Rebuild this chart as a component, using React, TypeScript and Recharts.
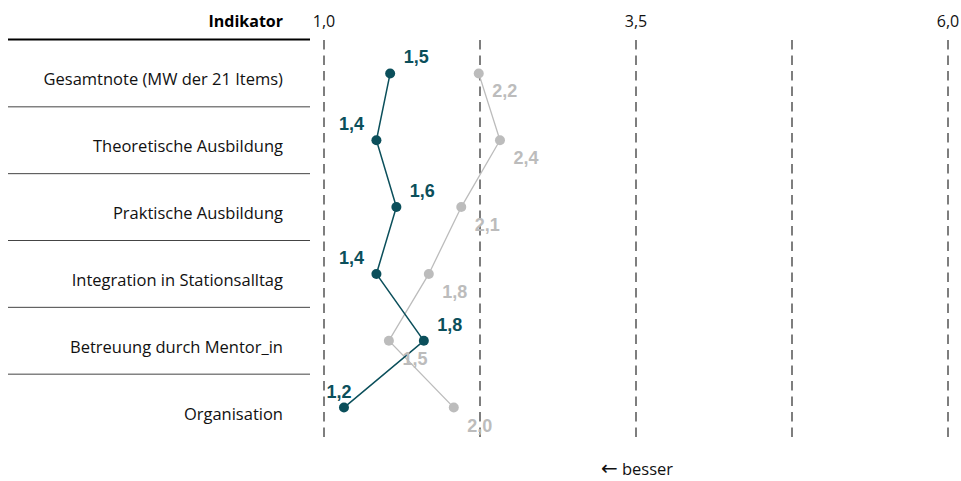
import React from 'react';
import {
  LineChart,
  Line,
  XAxis,
  YAxis,
  CartesianGrid,
  LabelList,
  Customized,
} from 'recharts';

const indicators = [
  'Gesamtnote (MW der 21 Items)',
  'Theoretische Ausbildung',
  'Praktische Ausbildung',
  'Integration in Stationsalltag',
  'Betreuung durch Mentor_in',
  'Organisation',
];
const currentScores = [1.53, 1.42, 1.58, 1.42, 1.8, 1.16];
const previousScores = [2.24, 2.41, 2.1, 1.84, 1.52, 2.04];
const gridTicks = [1, 2.25, 3.5, 4.75, 6];
const labelledTicks = [1, 3.5, 6];

const TEAL = '#0b4f5b';
const GREY = '#bcbcbc';
const FONT = '"Open Sans", sans-serif';
const LABEL_FONT = '"Liberation Sans", Arial, sans-serif';

const W = 961;
const H = 481;
const TOP_AXIS_H = 40;
const M = { top: 0, right: 13, bottom: 40, left: 0 };
const AXIS_W = 324;
const BAND = (H - TOP_AXIS_H - M.bottom) / indicators.length;

const data = indicators.map((name, i) => ({
  name,
  current: currentScores[i],
  previous: previousScores[i],
}));

const fmt = (v: number) => v.toFixed(1).replace('.', ',');

function XTick(props: any) {
  const { x, payload } = props;
  if (!labelledTicks.includes(payload.value)) return null;
  return (
    <text x={x} y={27} textAnchor="middle" fontFamily={FONT} fontSize={16} fill="#111">
      {fmt(payload.value)}
    </text>
  );
}

function YTick(props: any) {
  const { y, payload, index } = props;
  const top = y - BAND / 2;
  return (
    <g>
      <line
        x1={8}
        x2={310}
        y1={index === 0 ? top - 0.5 : top}
        y2={index === 0 ? top - 0.5 : top}
        stroke={index === 0 ? '#000' : '#444'}
        strokeWidth={index === 0 ? 2 : 1}
      />
      <text x={283} y={y + 12} textAnchor="end" fontFamily={FONT} fontSize={16.5} fill="#111">
        {payload.value}
      </text>
    </g>
  );
}

// teal labels sit above-left when the value drops, otherwise above-right
function CurrentLabel(props: any) {
  const { x, y, value, index } = props;
  const prev = index > 0 ? currentScores[index - 1] : -Infinity;
  const left = value < prev;
  const cx = left ? Math.max(x - 25, AXIS_W + 15) : x + 26;
  return (
    <text x={cx} y={y - 10} textAnchor="middle" fontFamily={LABEL_FONT} fontWeight="bold" fontSize={18} fill={TEAL}>
      {fmt(value)}
    </text>
  );
}

function PreviousLabel(props: any) {
  const { x, y, value } = props;
  return (
    <text x={x + 26} y={y + 24} textAnchor="middle" fontFamily={LABEL_FONT} fontWeight="bold" fontSize={18} fill={GREY}>
      {fmt(value)}
    </text>
  );
}

function Extras() {
  return (
    <g>
      <text x={283} y={27} textAnchor="end" fontFamily={FONT} fontWeight="bold" fontSize={16} fill="#000">
        Indikator
      </text>
      <text x={637} y={475} textAnchor="middle" fontFamily={FONT} fontSize={16.5} fill="#111">
        <tspan fontFamily='"DejaVu Sans", sans-serif' fontSize={20}>←</tspan> besser
      </text>
    </g>
  );
}

export default function App() {
  return (
    <div style={{ position: 'absolute', left: 0, top: 0, width: W, height: H, background: '#fff' }}>
      <LineChart width={W} height={H} data={data} layout="vertical" margin={M}>
        <CartesianGrid
          horizontal={false}
          vertical
          stroke="#3a3a3a"
          strokeWidth={1.3}
          strokeDasharray="9.5 6"
        />
        <XAxis
          type="number"
          orientation="top"
          domain={[1, 6]}
          ticks={gridTicks}
          interval={0}
          axisLine={false}
          tickLine={false}
          height={TOP_AXIS_H}
          tick={<XTick />}
          allowDataOverflow
        />
        <YAxis
          type="category"
          dataKey="name"
          scale="band"
          width={AXIS_W}
          axisLine={false}
          tickLine={false}
          interval={0}
          tick={<YTick />}
        />
        <Line
          dataKey="previous"
          type="linear"
          stroke={GREY}
          strokeWidth={1.3}
          dot={{ r: 5, fill: GREY, stroke: 'none' }}
          activeDot={false}
          isAnimationActive={false}
        >
          <LabelList dataKey="previous" content={<PreviousLabel />} />
        </Line>
        <Line
          dataKey="current"
          type="linear"
          stroke={TEAL}
          strokeWidth={1.5}
          dot={{ r: 5, fill: TEAL, stroke: 'none' }}
          activeDot={false}
          isAnimationActive={false}
        >
          <LabelList dataKey="current" content={<CurrentLabel />} />
        </Line>
        <Customized component={Extras} />
      </LineChart>
    </div>
  );
}
